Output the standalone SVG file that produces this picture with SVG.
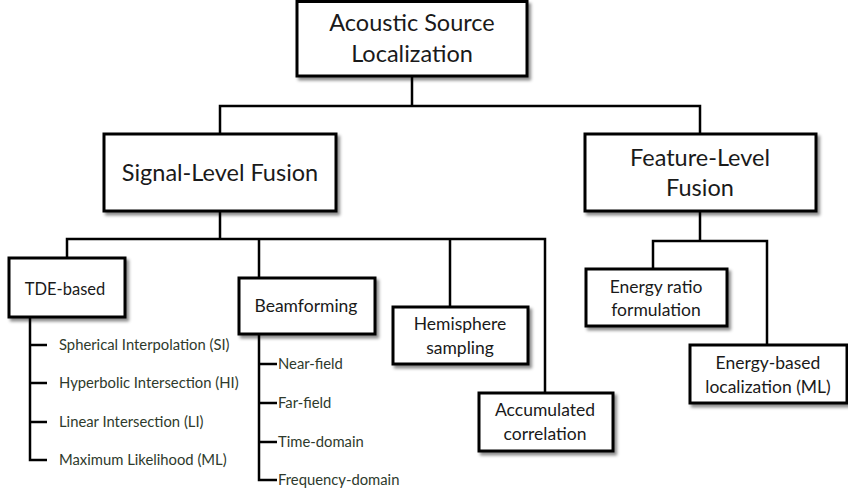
<svg xmlns="http://www.w3.org/2000/svg" width="848" height="490" viewBox="0 0 848 490">
  <defs>
    <filter id="shadow" x="-10%" y="-10%" width="130%" height="140%">
      <feDropShadow dx="2.5" dy="3" stdDeviation="1.8" flood-color="#000" flood-opacity="0.45"/>
    </filter>
  </defs>
  <style>
    .box { fill: #fff; stroke: #000; stroke-width: 3; filter: url(#shadow); }
    .wire { fill: none; stroke: #000; stroke-width: 2.5; stroke-linejoin: miter; }
    text { font-family: Lato, "Open Sans", "Liberation Sans", sans-serif; font-weight: 400; fill: #1a1a1a; text-anchor: middle; }
    .t1 { font-size: 23.5px; }
    .t2 { font-size: 17.5px; }
    .leaf { font-size: 14.8px; text-anchor: start; fill: #2e3a2c; }
  </style>
  <rect width="848" height="490" fill="#fff"/>

  <!-- connectors -->
  <g id="connectors" class="wire">
    <path d="M412 76 V106 M220 134 V106 H700 V134"/>
    <path d="M220 211 V239 M67 258 V239 H545 V393 M259 239 V278 M450 239 V307"/>
    <path d="M700 211 V241 M653 269 V241 H767 V345"/>
    <path d="M30 317 V460 H47 M30 345 H47 M30 383 H47 M30 422 H47"/>
    <path d="M259 334 V480 H277 M259 364 H277 M259 403 H277 M259 442 H277"/>
  </g>

  <g id="root">
    <rect class="box" x="297" y="1.5" width="230" height="74.5"/>
    <text class="t1" x="412" y="31">Acoustic Source</text>
    <text class="t1" x="412" y="62">Localization</text>
  </g>

  <g id="signal-level">
    <rect class="box" x="104" y="134" width="232" height="77"/>
    <text class="t1" x="220" y="181">Signal-Level Fusion</text>
  </g>

  <g id="feature-level">
    <rect class="box" x="585" y="134" width="231" height="77"/>
    <text class="t1" x="700" y="166">Feature-Level</text>
    <text class="t1" x="700" y="196">Fusion</text>
  </g>

  <g id="tde">
    <rect class="box" x="9" y="258" width="116" height="59"/>
    <text class="t2" x="65" y="295" style="font-size:16.5px">TDE-based</text>
    <text class="leaf" x="59" y="350">Spherical Interpolation (SI)</text>
    <text class="leaf" x="59" y="388">Hyperbolic Intersection (HI)</text>
    <text class="leaf" x="59" y="427">Linear Intersection (LI)</text>
    <text class="leaf" x="59" y="465">Maximum Likelihood (ML)</text>
  </g>

  <g id="beamforming">
    <rect class="box" x="239" y="278" width="136" height="56"/>
    <text class="t2" x="306" y="312">Beamforming</text>
    <text class="leaf" x="278" y="369">Near-field</text>
    <text class="leaf" x="278" y="408">Far-field</text>
    <text class="leaf" x="278" y="447">Time-domain</text>
    <text class="leaf" x="278" y="485">Frequency-domain</text>
  </g>

  <g id="hemisphere">
    <rect class="box" x="393" y="307" width="135" height="57"/>
    <text class="t2" x="460" y="330">Hemisphere</text>
    <text class="t2" x="460" y="354">sampling</text>
  </g>

  <g id="accumulated">
    <rect class="box" x="479" y="393" width="134" height="58"/>
    <text class="t2" x="545" y="416">Accumulated</text>
    <text class="t2" x="545" y="440">correlation</text>
  </g>

  <g id="energy-ratio">
    <rect class="box" x="586" y="269" width="141" height="57"/>
    <text class="t2" x="656" y="293">Energy ratio</text>
    <text class="t2" x="656" y="316">formulation</text>
  </g>

  <g id="energy-based">
    <rect class="box" x="690" y="345" width="157" height="58"/>
    <text class="t2" x="768" y="369">Energy-based</text>
    <text class="t2" x="768" y="393">localization (ML)</text>
  </g>
</svg>
